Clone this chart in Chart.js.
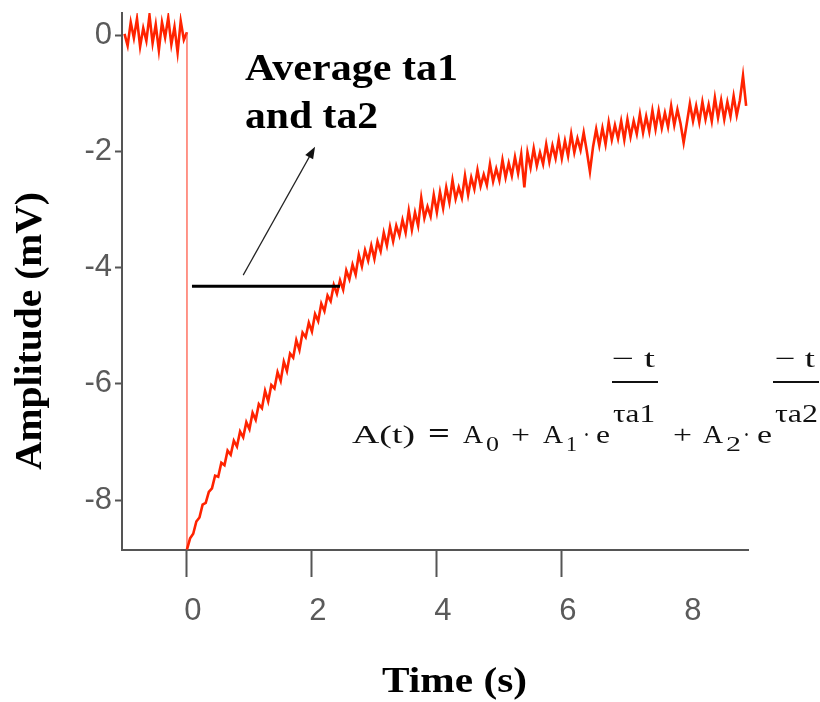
<!DOCTYPE html>
<html>
<head>
<meta charset="utf-8">
<script src="https://cdn.jsdelivr.net/npm/chart.js@4"></script>
<style>
  html, body { margin: 0; padding: 0; background: #fff; }
  #wrap { width: 820px; height: 702px; }
</style>
</head>
<body>
<div id="wrap"><canvas id="ampChart" width="820" height="702"></canvas></div>
<script>
// --- data ---
const xTicks = [0, 2, 4, 6, 8];
const yTicks = [-8, -6, -4, -2, 0];
const sampleStep = 0.05;

// baseline before stimulus, t = -1.00 ... 0.00
const baselineStart = -1.0;
const baselineAmp = [
  0.02, -0.18, 0.22, -0.05, 0.28, -0.20, 0.12, -0.10, 0.34, -0.14,
  0.18, -0.26, 0.22, -0.04, 0.30, -0.16, 0.14, -0.30, 0.24, -0.08,
  0.05
];

// recovery after stimulus, t = 0.00 ... 8.95
const recoveryStart = 0.0;
const recoveryAmp = [
  -8.85, -8.66, -8.58, -8.37, -8.30, -8.08, -8.05, -7.86, -7.80, -7.58,
  -7.60, -7.36, -7.40, -7.15, -7.22, -6.98, -7.08, -6.82, -6.92, -6.66,
  -6.78, -6.50, -6.62, -6.35, -6.42, -6.12, -6.30, -6.02, -6.08, -5.80,
  -5.95, -5.62, -5.78, -5.48, -5.55, -5.25, -5.42, -5.12, -5.20, -4.95,
  -5.10, -4.80, -4.92, -4.62, -4.75, -4.48, -4.58, -4.30, -4.45, -4.22,
  -4.38, -4.05, -4.20, -3.95, -4.12, -3.78, -3.98, -3.70, -3.88, -3.62,
  -3.85, -3.55, -3.72, -3.40, -3.62, -3.30, -3.55, -3.28, -3.45, -3.18,
  -3.40, -3.02, -3.35, -3.05, -3.28, -2.80, -3.15, -2.95, -3.12, -2.75,
  -3.05, -2.70, -2.98, -2.62, -2.88, -2.50, -2.82, -2.62, -2.80, -2.42,
  -2.75, -2.45, -2.65, -2.32, -2.60, -2.40, -2.58, -2.22, -2.52, -2.30,
  -2.50, -2.15, -2.45, -2.20, -2.42, -2.10, -2.38, -2.05, -2.62, -2.02,
  -2.28, -1.95, -2.25, -2.02, -2.22, -1.88, -2.18, -1.90, -2.12, -1.80,
  -2.12, -1.82, -2.08, -1.70, -2.02, -1.78, -1.98, -1.68, -2.00, -2.35,
  -1.92, -1.62, -1.90, -1.60, -1.88, -1.50, -1.80, -1.55, -1.78, -1.48,
  -1.80, -1.45, -1.75, -1.48, -1.70, -1.36, -1.68, -1.40, -1.66, -1.30,
  -1.62, -1.30, -1.60, -1.34, -1.58, -1.22, -1.55, -1.28, -1.52, -1.85,
  -1.52, -1.18, -1.48, -1.22, -1.50, -1.15, -1.45, -1.20, -1.48, -1.08,
  -1.42, -1.12, -1.45, -1.15, -1.40, -1.05, -1.38, -1.12, -0.70, -1.22
];

const tracePoints = [];
baselineAmp.forEach((v, i) => tracePoints.push({ x: baselineStart + i * sampleStep, y: v }));
recoveryAmp.forEach((v, i) => tracePoints.push({ x: recoveryStart + i * sampleStep, y: v }));

// annotation bits (in data units)
const halfLine = { x0: 0.08, x1: 2.45, y: -4.32 };
const arrowLine = { x0: 0.90, y0: -4.13, x1: 2.05, y1: -1.92 };

// draw text squeezed/stretched to a measured width
function fitText(ctx, text, left, right, baseline, font) {
  ctx.save();
  ctx.font = font;
  const w = ctx.measureText(text).width;
  ctx.translate(left, baseline);
  ctx.scale((right - left) / w, 1);
  ctx.textAlign = 'left';
  ctx.textBaseline = 'alphabetic';
  ctx.fillText(text, 0, 0);
  ctx.restore();
}

const overlayPlugin = {
  id: 'overlay',
  afterDatasetsDraw(chart) {
    const ctx = chart.ctx;
    const xs = chart.scales.x, ys = chart.scales.y;

    // horizontal half-amplitude line
    ctx.save();
    ctx.strokeStyle = '#000';
    ctx.lineWidth = 3;
    ctx.beginPath();
    ctx.moveTo(xs.getPixelForValue(halfLine.x0), ys.getPixelForValue(halfLine.y));
    ctx.lineTo(xs.getPixelForValue(halfLine.x1), ys.getPixelForValue(halfLine.y));
    ctx.stroke();

    // arrow
    const ax0 = xs.getPixelForValue(arrowLine.x0), ay0 = ys.getPixelForValue(arrowLine.y0);
    const ax1 = xs.getPixelForValue(arrowLine.x1), ay1 = ys.getPixelForValue(arrowLine.y1);
    const ang = Math.atan2(ay1 - ay0, ax1 - ax0);
    ctx.strokeStyle = '#222';
    ctx.lineWidth = 1.2;
    ctx.beginPath();
    ctx.moveTo(ax0, ay0);
    ctx.lineTo(ax1 - 8 * Math.cos(ang), ay1 - 8 * Math.sin(ang));
    ctx.stroke();
    ctx.fillStyle = '#111';
    ctx.beginPath();
    ctx.moveTo(ax1, ay1);
    ctx.lineTo(ax1 - 12 * Math.cos(ang) + 4.5 * Math.sin(ang), ay1 - 12 * Math.sin(ang) - 4.5 * Math.cos(ang));
    ctx.lineTo(ax1 - 12 * Math.cos(ang) - 4.5 * Math.sin(ang), ay1 - 12 * Math.sin(ang) + 4.5 * Math.cos(ang));
    ctx.closePath();
    ctx.fill();
    ctx.restore();

    // text
    ctx.save();
    ctx.fillStyle = '#000';
    const bold = 'bold 37px "Liberation Serif"';
    fitText(ctx, 'Average ta1', 245, 458, 80, bold);
    fitText(ctx, 'and ta2', 245, 378, 128, bold);
    fitText(ctx, 'Time (s)', 382, 527, 692, 'bold 36px "Liberation Serif"');

    // y title
    ctx.save();
    ctx.translate(41, 331);
    ctx.rotate(-Math.PI / 2);
    fitText(ctx, 'Amplitude (mV)', -139, 139, 0, 'bold 37px "Liberation Serif"');
    ctx.restore();

    // formula
    const f = '26px "Liberation Serif"';
    const fs = '22px "Liberation Serif"';
    ctx.fillStyle = '#111';
    fitText(ctx, 'A(t)', 352, 415, 443, f);
    fitText(ctx, '=', 428, 450, 443, 'bold 30px "Liberation Serif"');
    fitText(ctx, 'A', 463, 483, 443, f);
    fitText(ctx, '0', 486, 499, 451, fs);
    fitText(ctx, '+', 511, 530, 443, f);
    fitText(ctx, 'A', 543, 563, 443, f);
    fitText(ctx, '1', 566, 577, 451, fs);
    fitText(ctx, '·', 583, 590, 443, f);
    fitText(ctx, 'e', 596, 610, 443, f);
    fitText(ctx, '\u2212 t', 612, 655, 367, f);
    ctx.fillRect(612, 381, 46, 2);
    fitText(ctx, '\u03C4a1', 613, 655, 422, f);
    fitText(ctx, '+', 673, 692, 443, f);
    fitText(ctx, 'A', 703, 723, 443, f);
    fitText(ctx, '2', 726, 741, 451, fs);
    fitText(ctx, '·', 743, 750, 443, f);
    fitText(ctx, 'e', 757, 772, 443, f);
    fitText(ctx, '\u2212 t', 775, 815, 367, f);
    ctx.fillRect(773, 381, 46, 2);
    fitText(ctx, '\u03C4a2', 775, 818, 422, f);
    ctx.restore();
  }
};

const axisGrey = '#555';
const tickFont = { family: '"Liberation Sans", Arial, sans-serif', size: 31 };

new Chart(document.getElementById('ampChart').getContext('2d'), {
  type: 'line',
  data: {
    datasets: [{
      data: tracePoints,
      borderColor: 'rgb(255,35,0)',
      borderWidth: 2.6,
      pointRadius: 0,
      tension: 0,
      fill: false,
      // the stimulus step is a thin single stroke in the original
      segment: {
        borderWidth: c => (c.p0.parsed.x === c.p1.parsed.x) ? 1.2 : undefined,
        borderColor: c => (c.p0.parsed.x === c.p1.parsed.x) ? 'rgb(255,80,60)' : undefined
      }
    }]
  },
  options: {
    responsive: false,
    animation: false,
    parsing: false,
    layout: { padding: { left: 0, right: 72, top: 13, bottom: 0 } },
    plugins: {
      legend: { display: false },
      tooltip: { enabled: false }
    },
    scales: {
      x: {
        type: 'linear',
        min: -1.04,
        max: 8.98,
        afterBuildTicks: s => { s.ticks = xTicks.map(v => ({ value: v })); },
        afterFit: s => { s.height = 152; s.paddingLeft = 0; s.paddingRight = 0; },
        border: { color: axisGrey, width: 2 },
        grid: {
          drawOnChartArea: false,
          tickLength: 27,
          tickWidth: 2,
          tickColor: c => (c.tick && c.tick.value === 8) ? 'rgba(0,0,0,0)' : axisGrey
        },
        ticks: { font: tickFont, color: '#5a5a5a', padding: 16, labelOffset: 6, maxRotation: 0, autoSkip: false }
      },
      y: {
        min: -8.86,
        max: 0.38,
        afterBuildTicks: s => { s.ticks = yTicks.map(v => ({ value: v })); },
        afterFit: s => { s.width = 122; s.paddingTop = 0; s.paddingBottom = 0; },
        border: { color: axisGrey, width: 2 },
        grid: { drawOnChartArea: false, tickLength: 7, tickWidth: 2, tickColor: axisGrey },
        ticks: { font: tickFont, color: '#5a5a5a', padding: 3, autoSkip: false }
      }
    }
  },
  plugins: [overlayPlugin]
});
</script>
</body>
</html>
